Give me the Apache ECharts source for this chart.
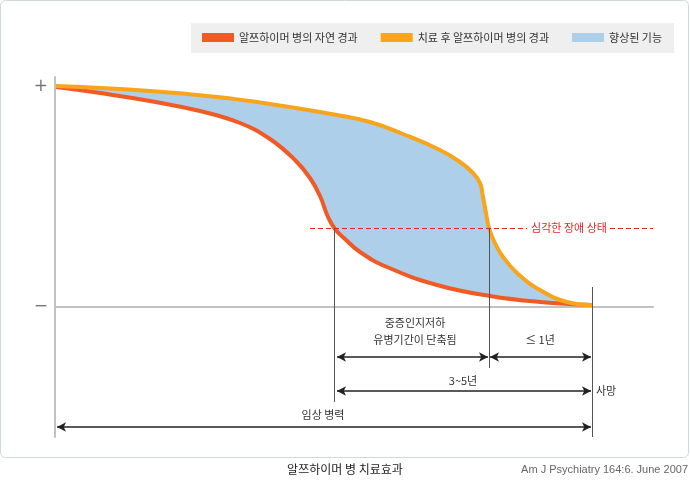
<!DOCTYPE html>
<html><head><meta charset="utf-8">
<script src="https://cdn.jsdelivr.net/npm/echarts@6/dist/echarts.min.js"></script>
<style>html,body{margin:0;padding:0;background:#fff}#c{width:690px;height:480px}</style>
</head><body><div id="c"></div>
<script>
// ---- data (x: time position, y: cognitive function level; 0 = "−" baseline) ----
const seriesNames = ['알쯔하이머 병의 자연 경과', '치료 후 알쯔하이머 병의 경과', '향상된 기능'];
const naturalX = [56, 100, 150, 200, 240, 270, 295, 310, 320, 328, 335, 345, 360, 387, 437, 490, 540, 592];
const naturalY = [220, 214, 206, 196, 184, 168, 147, 129, 111, 90, 78, 68, 55, 40, 22, 11, 5, 2];
const treatedX = [56, 150, 217, 270, 337, 370, 403, 440, 460, 473, 480, 483, 486, 489, 494, 503, 517, 540, 567, 592];
const treatedY = [221, 216, 210, 203, 192, 185, 173, 157, 145, 134, 124, 110, 94, 79, 66, 50, 34, 17, 5, 2];
const yTickValues = [220, 0];
const yTickLabels = ['+', '−'];
const severeLevel = 79;
const severeLabel = '심각한 장애 상태';
const severeLineFrom = 310, severeLineTo = 653, severeGapFrom = 527, severeGapTo = 610, severeLabelX = 569;
const markerX = [334, 489, 592];
const markerTop = [79, 79, 20];
const markerBottom = [-95, -61, -130];
const spanFrom = [337, 490, 337, 57];
const spanTo = [488, 591, 591, 591];
const spanLevel = [-50, -50, -84, -120];
const noteText = ['중증인지저하', '유병기간이 단축됨', '≤ 1년', '3~5년', '사망', '임상 병력'];
const noteX = [415, 415, 540, 463, 606, 323];
const noteY = [-16, -33, -33, -74, -84, -108];
const captionText = '알쯔하이머 병 치료효과';
const sourceText = 'Am J Psychiatry 164:6. June 2007';

const pairs = (xs, ys) => xs.map((x, i) => [x, ys[i]]);
const FONT = '"Noto Sans CJK KR", "Noto Sans", sans-serif';
const SMOOTH = 0.45;

const chart = echarts.init(document.getElementById('c'), null, {renderer: 'canvas'});

const markLineData = [];
markLineData.push([{coord: [severeLineFrom, severeLevel], lineStyle: {color: '#f01e1e', type: [5, 3], width: 1}},
                   {coord: [severeGapFrom, severeLevel]}]);
markLineData.push([{coord: [severeGapTo, severeLevel], lineStyle: {color: '#f01e1e', type: [5, 3], width: 1}},
                   {coord: [severeLineTo, severeLevel]}]);
markerX.forEach((x, i) => markLineData.push([
  {coord: [x, markerTop[i]], lineStyle: {color: '#555', width: 1, type: 'solid'}},
  {coord: [x, markerBottom[i]]}
]));
spanFrom.forEach((x, i) => markLineData.push([
  {coord: [x, spanLevel[i]], symbol: 'arrow', lineStyle: {color: '#222', width: 1.5, type: 'solid'}},
  {coord: [spanTo[i], spanLevel[i]], symbol: 'arrow'}
]));

const markPointData = noteText.map((t, i) => ({name: t, coord: [noteX[i], noteY[i]]}));
markPointData.push({name: severeLabel, coord: [severeLabelX, severeLevel], label: {color: '#f01e1e'}});

chart.setOption({
  animation: false,
  textStyle: {fontFamily: FONT},
  grid: {left: 55, right: 37, top: 77, bottom: 43, containLabel: false},
  legend: {
    data: seriesNames.map(n => ({name: n, icon: 'rect'})),
    left: 191, top: 23,
    padding: [9, 12, 10, 11],
    itemGap: 23, itemWidth: 32, itemHeight: 9,
    backgroundColor: '#efefef',
    textStyle: {fontSize: 11, color: '#333', fontFamily: FONT},
    selectedMode: false
  },
  xAxis: {
    type: 'value', min: 55, max: 653, z: 2,
    axisLine: {show: true, onZero: true, lineStyle: {color: '#c2c2c2', width: 2}},
    axisTick: {show: false}, axisLabel: {show: false}, splitLine: {show: false}
  },
  yAxis: {
    type: 'value', min: -130, max: 230, interval: 10, z: 2,
    axisLine: {show: true, lineStyle: {color: '#c2c2c2', width: 2}},
    axisTick: {show: false}, splitLine: {show: false},
    axisLabel: {
      margin: 7, color: '#777', fontSize: 17, fontFamily: 'DejaVu Sans',
      formatter: v => { const k = yTickValues.indexOf(v); return k >= 0 ? yTickLabels[k] : ''; }
    }
  },
  series: [
    {name: seriesNames[2], type: 'line', z: 1, data: pairs(treatedX, treatedY), smooth: SMOOTH,
     symbol: 'none', color: '#aecfea', lineStyle: {width: 0}, areaStyle: {color: '#aecfea', opacity: 1}, silent: true},
    {name: 'mask', type: 'line', z: 1, data: pairs(naturalX, naturalY), smooth: SMOOTH,
     symbol: 'none', color: '#ffffff', lineStyle: {width: 0}, areaStyle: {color: '#ffffff', opacity: 1}, silent: true},
    {name: seriesNames[0], type: 'line', z: 3, data: pairs(naturalX, naturalY), smooth: SMOOTH,
     symbol: 'none', color: '#f15a24', lineStyle: {width: 4, color: '#f15a24'},
     markLine: {silent: true, symbol: 'none', symbolSize: [7, 9], label: {show: false}, data: markLineData, animation: false},
     markPoint: {silent: true, symbol: 'circle', symbolSize: 0, data: markPointData,
       label: {show: true, position: 'inside', formatter: '{b}', color: '#333', fontSize: 11, fontFamily: FONT}}},
    {name: seriesNames[1], type: 'line', z: 3, data: pairs(treatedX, treatedY), smooth: SMOOTH,
     symbol: 'none', color: '#f8a51b', lineStyle: {width: 4, color: '#f8a51b'}}
  ],
  graphic: [
    {type: 'rect', z: -10, silent: true, shape: {x: 0.5, y: 0.5, width: 688, height: 457, r: 5},
     style: {fill: 'none', stroke: '#cfd8df', lineWidth: 1}},
    {type: 'text', left: 'center', top: 463, style: {text: captionText, fill: '#222', font: '12px ' + FONT}},
    {type: 'text', right: 2, top: 464, style: {text: sourceText, fill: '#666', font: '11px "Liberation Sans", Arial, sans-serif'}}
  ]
});
</script>
</body></html>
